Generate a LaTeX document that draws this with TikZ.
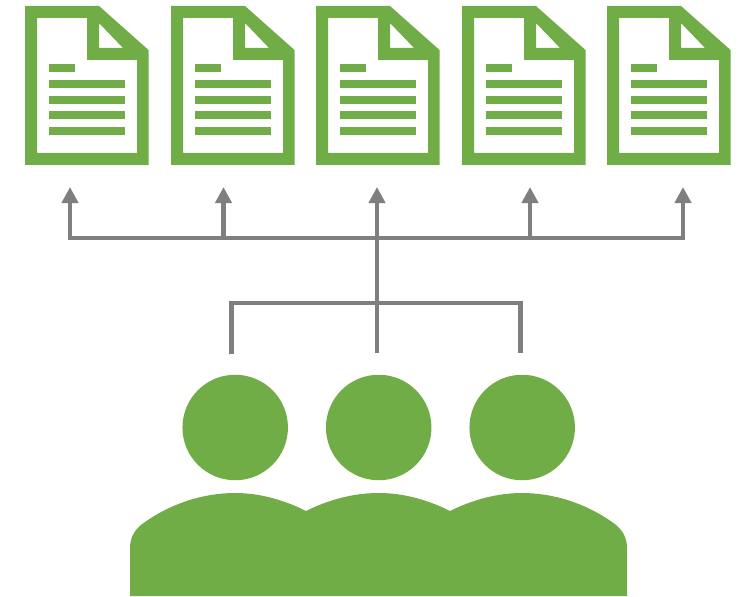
\documentclass[tikz,border=0pt]{standalone}
\usepackage{tikz}
\usetikzlibrary{arrows.meta}
\definecolor{docgreen}{HTML}{70AD47}
\definecolor{linegray}{HTML}{7F7F7F}
\tikzset{
  myhead/.style={
    circle, fill=docgreen, minimum size=105.5*0.03cm, inner sep=0mm
  },
  myline/.style={
    draw=linegray, line width=4.2*0.03cm
  },
  myarrow/.style={
    myline, -{Triangle[width=16*0.03cm,length=16*0.03cm]}
  },
  docicon/.pic={
    \fill[docgreen, even odd rule] (0,0) -- (74,0) -- (123.5,44) -- (123.5,159) -- (0,159) -- cycle
      (12,12) -- (62,12) -- (62,54) -- (112,54) -- (112,147) -- (12,147) -- cycle
      (74,17) -- (98,42) -- (74,42) -- cycle;
    \fill[docgreen] (24,58) rectangle (50,66);
    \foreach \y in {74,90,105,121}
      \fill[docgreen] (24,\y) rectangle (100,\y+8);
  }
}

\begin{document}
\begin{tikzpicture}[x=0.03cm,y=-0.03cm]
  \useasboundingbox (0,0) rectangle (741,596);

  % documents
  \pic at (25,6) {docicon};
  \pic at (171,6) {docicon};
  \pic at (316,6) {docicon};
  \pic at (462,6) {docicon};
  \pic at (607,6) {docicon};

  % connectors
  \coordinate (t1) at (70,187);
  \coordinate (t2) at (223.5,187);
  \coordinate (t3) at (377,187);
  \coordinate (t4) at (530,187);
  \coordinate (t5) at (683,187);
  \coordinate (b1) at (70,238);
  \coordinate (b2) at (223.5,238);
  \coordinate (b3) at (377,238);
  \coordinate (b4) at (530,238);
  \coordinate (b5) at (683,238);
  \coordinate (m1) at (231.5,303);
  \coordinate (m2) at (377,303);
  \coordinate (m3) at (520.5,303);
  \coordinate (p1) at (231.5,354);
  \coordinate (p2) at (377,353);
  \coordinate (p3) at (520.5,353);

  \foreach \i in {1,...,5}
    \draw[myarrow] (b\i) -- (t\i);
  \draw[myline, line cap=rect] (b1) -- (b5);
  \draw[myline] (p2) -- (b3);
  \draw[myline, line join=miter] (p1) -- (m1) -- (m3) -- (p3);

  % people
  \node[myhead] (head1) at (235.2,427.5) {};
  \node[myhead] (head2) at (378.7,427.5) {};
  \node[myhead] (head3) at (522.2,427.5) {};
  \fill[docgreen] (130,596) -- (130,548)
    .. controls (130,536) and (136,528) .. (145,522)
    .. controls (172,503) and (204,493) .. (235,493)
    .. controls (260,493) and (284,500) .. (306,511)
    .. controls (328,500) and (353,493) .. (378.5,493)
    .. controls (404,493) and (428,500) .. (450,511)
    .. controls (472,500) and (497,493) .. (522,493)
    .. controls (553,493) and (585,503) .. (612,522)
    .. controls (621,528) and (627,536) .. (627,548)
    -- (627,596) -- cycle;
\end{tikzpicture}
\end{document}
